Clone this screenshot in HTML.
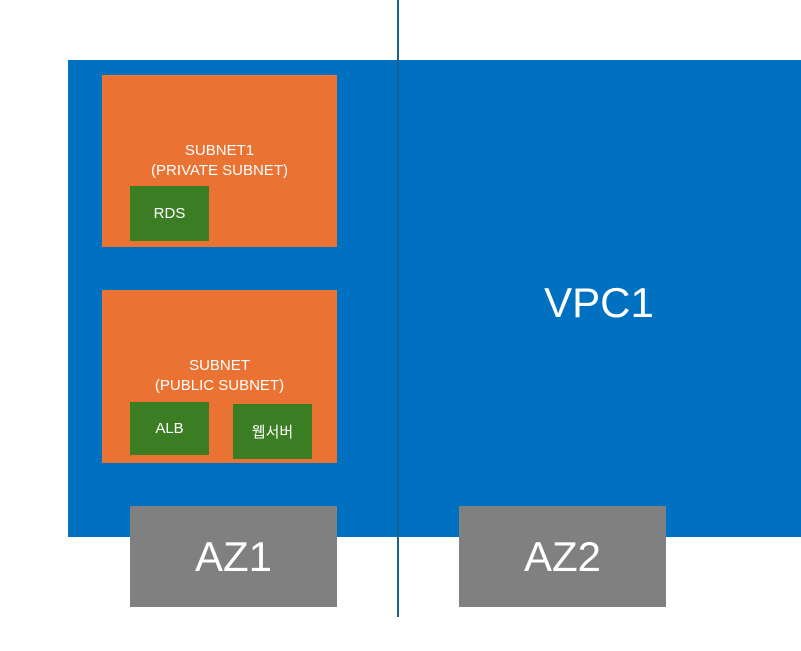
<!DOCTYPE html>
<html><head><meta charset="utf-8"><style>
body{margin:0;width:801px;height:651px;background:#fff;position:relative;overflow:hidden;font-family:"Liberation Sans","Noto Sans CJK KR",sans-serif;color:#fff}
div{position:absolute;box-sizing:border-box;display:flex;align-items:center;justify-content:center;text-align:center}
.o{background:#ea7333;font-size:15px;line-height:20px}
.g{background:#3b7d23;font-size:15px}
.a{background:#808080;font-size:42px}
</style></head><body>
<div style="left:68px;top:60px;width:733px;height:477px;background:#0070c0"></div>
<div style="left:504px;top:278px;width:190px;height:50px;font-size:42px">VPC1</div>
<div class="o" style="left:102px;top:75px;width:235px;height:172px;padding-bottom:0"><span style="position:absolute;top:66px;left:0;right:0">SUBNET1<br>(PRIVATE SUBNET)</span></div>
<div class="g" style="left:130px;top:186px;width:79px;height:55px">RDS</div>
<div class="o" style="left:102px;top:290px;width:235px;height:173px"><span style="position:absolute;top:66px;left:0;right:0">SUBNET<br>(PUBLIC SUBNET)</span></div>
<div class="g" style="left:130px;top:402px;width:79px;height:53px">ALB</div>
<div class="g" style="left:233px;top:404px;width:79px;height:55px">웹서버</div>
<div class="a" style="left:130px;top:506px;width:207px;height:101px">AZ1</div>
<div class="a" style="left:459px;top:506px;width:207px;height:101px">AZ2</div>
<div style="left:397px;top:0;width:2px;height:617px;background:#1f5f8b"></div>
</body></html>
